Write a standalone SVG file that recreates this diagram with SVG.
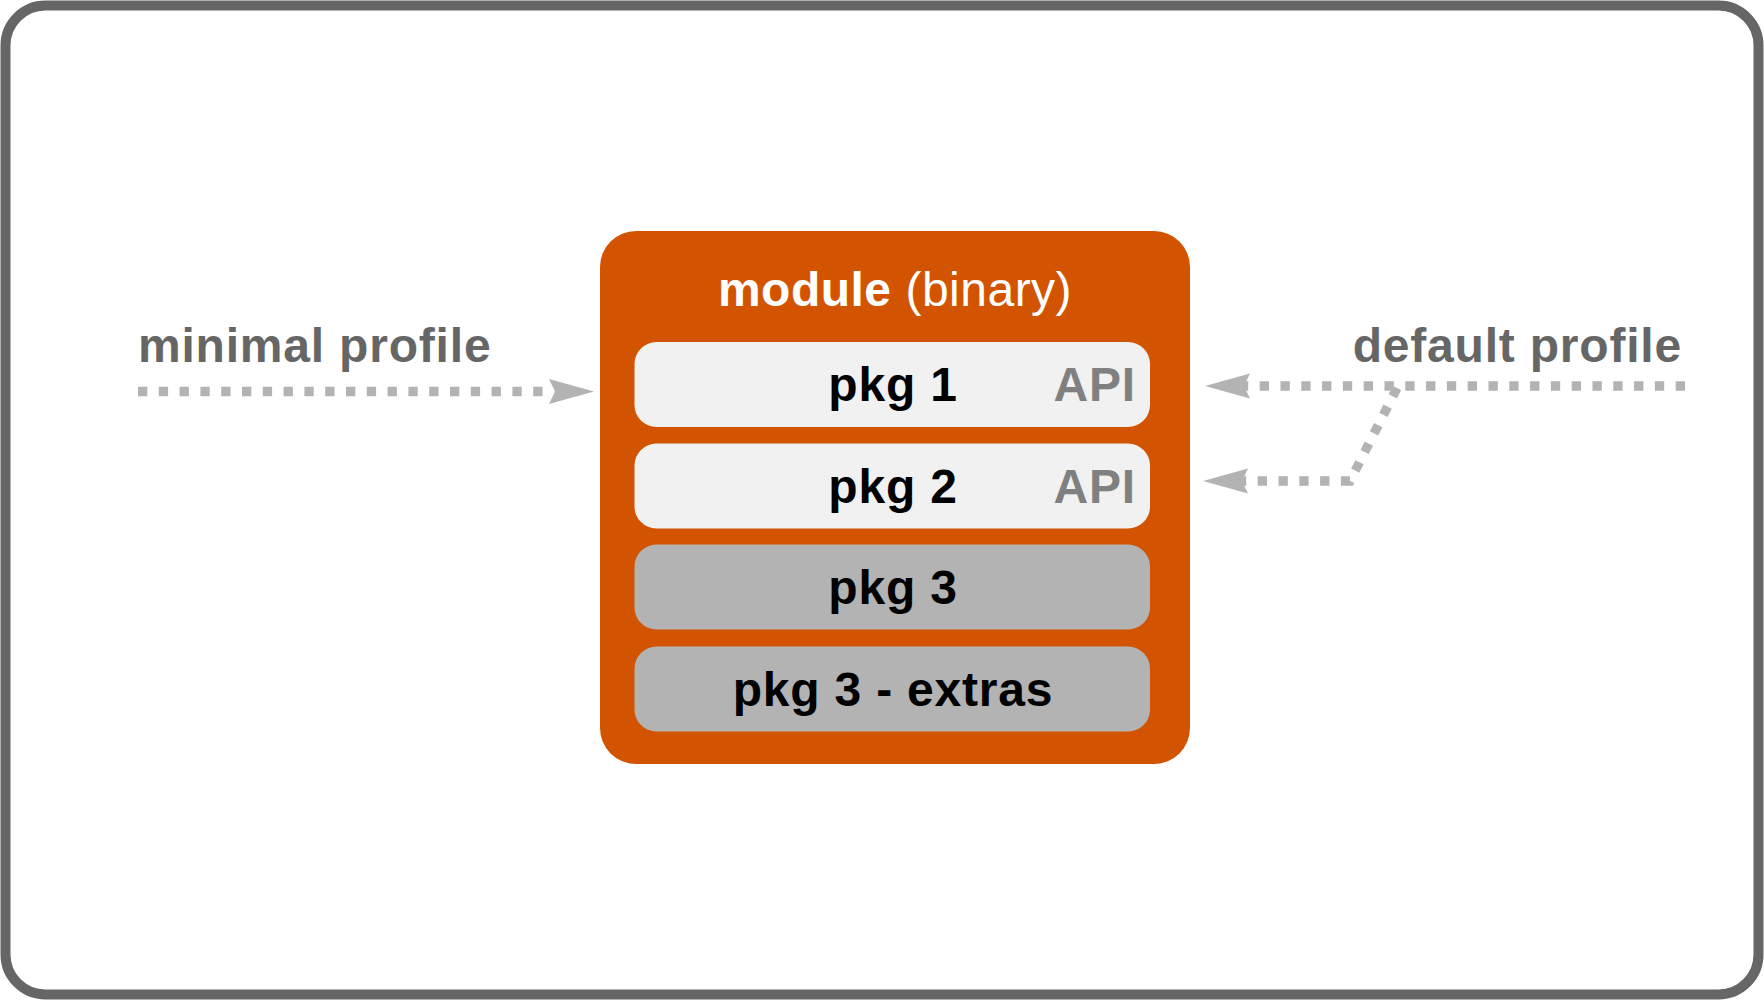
<svg xmlns="http://www.w3.org/2000/svg" xmlns:xlink="http://www.w3.org/1999/xlink" width="1764" height="1000" viewBox="0 0 1764 1000">
<style>
.lbl{font-family:"Liberation Sans",Arial,Helvetica,sans-serif;font-weight:bold;font-size:48px;letter-spacing:0.8px}
.pkg{fill:#000;text-anchor:middle}
.api{fill:#808080;text-anchor:end}
.prof{fill:#666666}
.light{fill:#F1F1F1}
.dark{fill:#B3B3B3}
.dot{fill:none;stroke:#B3B3B3;stroke-width:9.3;stroke-dasharray:9.3 11.5}
.head{fill:#B3B3B3}
</style>
<defs>
<path id="ah" d="M0,0 L-45,-12.5 L-39,0 L-45,12.5 Z"/>
</defs>
<rect id="frame" x="5.5" y="5.5" width="1753" height="989" rx="40" ry="40" fill="#FFFFFF" stroke="#666666" stroke-width="10"/>
<g id="module">
<rect x="600" y="231" width="590" height="533" rx="36" ry="36" fill="#D35400"/>
<text x="895" y="306" text-anchor="middle" font-family="Liberation Sans, Arial, Helvetica, sans-serif" font-size="48" letter-spacing="0.5" fill="#FFFFFF"><tspan font-weight="bold">module</tspan> (binary)</text>
</g>
<g id="pkg1">
<rect class="light" x="634.5" y="342" width="515.5" height="85" rx="22" ry="22"/>
<text class="lbl pkg" x="893" y="401">pkg 1</text>
<text class="lbl api" x="1136" y="401">API</text>
</g>
<g id="pkg2">
<rect class="light" x="634.5" y="443.5" width="515.5" height="85" rx="22" ry="22"/>
<text class="lbl pkg" x="893" y="502.5">pkg 2</text>
<text class="lbl api" x="1136" y="502.5">API</text>
</g>
<g id="pkg3">
<rect class="dark" x="634.5" y="544.5" width="515.5" height="85" rx="22" ry="22"/>
<text class="lbl pkg" x="893" y="604">pkg 3</text>
</g>
<g id="pkg3extras">
<rect class="dark" x="634.5" y="646.5" width="515.5" height="85" rx="22" ry="22"/>
<text class="lbl pkg" x="893" y="706">pkg 3 - extras</text>
</g>
<g id="minimal">
<text class="lbl prof" x="138" y="362">minimal profile</text>
</g>
<g id="default">
<text class="lbl prof" x="1682" y="362" text-anchor="end">default profile</text>
</g>
<g id="connectors">
<path class="dot" d="M138,391.5 H548"/>
<use xlink:href="#ah" class="head" transform="translate(594,391.5)"/>
<path class="dot" d="M1685,386 H1242"/>
<use xlink:href="#ah" class="head" transform="translate(1205,386) rotate(180)"/>
<path class="dot" d="M1397,388 L1350,481 H1240"/>
<use xlink:href="#ah" class="head" transform="translate(1203,481) rotate(180)"/>
</g>
</svg>
